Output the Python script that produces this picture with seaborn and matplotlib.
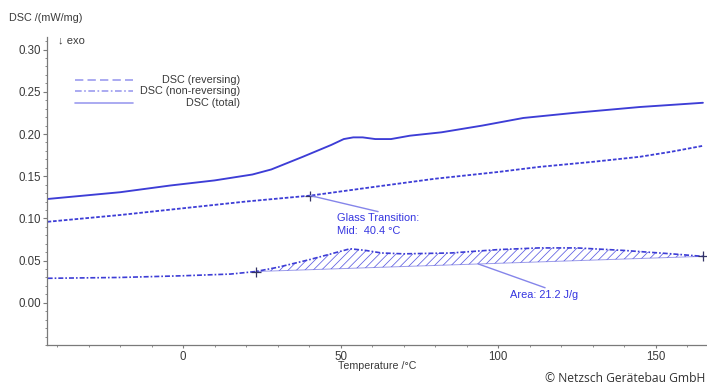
import numpy as np
import pandas as pd
import matplotlib
matplotlib.use("Agg")
import matplotlib.pyplot as plt
from matplotlib.ticker import MultipleLocator, FormatStrFormatter
import seaborn as sns

# --- measured DSC signals (temperature in °C, signal in mW/mg) ---
total_T = [-43, -20, -4, 10, 22, 28, 38, 47, 51, 54, 57, 61, 66, 72, 82, 95, 108, 124, 145, 165]
total_v = [0.123, 0.131, 0.139, 0.145, 0.152, 0.158, 0.173, 0.187, 0.194, 0.196, 0.196, 0.194,
           0.194, 0.198, 0.202, 0.210, 0.219, 0.225, 0.232, 0.237]

rev_T = [-43, -20, 0, 20, 40.4, 60, 80, 100, 113, 130, 145, 155, 165]
rev_v = [0.096, 0.104, 0.112, 0.120, 0.127, 0.137, 0.147, 0.155, 0.161, 0.167, 0.173, 0.179, 0.186]

nonrev_T = [-43, -20, 0, 15, 23, 30, 40, 47, 53, 58, 63, 70, 85, 100, 113, 125, 140, 155, 165]
nonrev_v = [0.029, 0.030, 0.032, 0.034, 0.037, 0.042, 0.051, 0.058, 0.064, 0.062, 0.059, 0.058,
            0.059, 0.063, 0.065, 0.065, 0.062, 0.058, 0.055]

# evaluation results
tg_mid = 40.4
tg_value = 0.127
area_limits_T = [23, 165]
area_limits_v = [0.037, 0.055]
area_value = 21.2

series_labels = ["DSC (reversing)", "DSC (non-reversing)", "DSC (total)"]

CURVE = "#3d3dd6"
HATCH_C = "#5c5ce2"
LEGEND_C = "#9c9cef"
TEXT_C = "#3535e0"
LEADER = "#8585ea"
AXIS_C = "#7a7a7a"
LABEL_C = "#3a3a3a"

sns.set_theme(style="ticks")
plt.rcParams["font.family"] = ["Liberation Sans", "DejaVu Sans"]
plt.rcParams["hatch.linewidth"] = 0.55

fig = plt.figure(figsize=(7.07, 3.85), dpi=100)
ax = fig.add_axes([0.0665, 0.104, 0.9335, 0.800])

df_total = pd.DataFrame({"T": total_T, "v": total_v})
df_rev = pd.DataFrame({"T": rev_T, "v": rev_v})
df_nonrev = pd.DataFrame({"T": nonrev_T, "v": nonrev_v})

sns.lineplot(data=df_total, x="T", y="v", ax=ax, color=CURVE, lw=1.35, sort=False)
sns.lineplot(data=df_rev, x="T", y="v", ax=ax, color=CURVE, lw=1.3, sort=False
             ).lines[-1].set_dashes((2.0, 1.0))
sns.lineplot(data=df_nonrev, x="T", y="v", ax=ax, color=CURVE, lw=1.2, sort=False
             ).lines[-1].set_dashes((3.0, 1.2, 1.0, 1.2))

# peak area against a linear baseline between the integration limits
seg = [(t, v) for t, v in zip(nonrev_T, nonrev_v) if area_limits_T[0] < t < area_limits_T[1]]
seg_T = np.array([area_limits_T[0]] + [p[0] for p in seg] + [area_limits_T[1]], dtype=float)
seg_v = np.array([area_limits_v[0]] + [p[1] for p in seg] + [area_limits_v[1]], dtype=float)
base = np.interp(seg_T, area_limits_T, area_limits_v)
ax.fill_between(seg_T, base, seg_v, facecolor="none", edgecolor=HATCH_C, hatch="////", lw=0)
ax.plot(area_limits_T, area_limits_v, color=CURVE, lw=0.7, alpha=0.5)

# evaluation markers
ax.plot([tg_mid], [tg_value], marker="+", ms=7, color="#333366", mew=0.9)
ax.plot(area_limits_T, area_limits_v, ls="none", marker="+", ms=7, color="#333366", mew=0.9)

# annotations
ax.plot([tg_mid, 61.9], [tg_value, 0.108], color=LEADER, lw=1.0)
ax.text(48.9, 0.1007, "Glass Transition:", color=TEXT_C, fontsize=7.9, va="center", ha="left")
ax.text(48.9, 0.0853, f"Mid:  {tg_mid} °C", color=TEXT_C, fontsize=7.9, va="center", ha="left")
ax.plot([93.7, 114.9], [0.046, 0.0178], color=LEADER, lw=1.0)
ax.text(103.8, 0.0095, f"Area: {area_value} J/g", color=TEXT_C, fontsize=7.9, va="center", ha="left")

# key drawn inside the plot area
key_y = [0.860, 0.824, 0.786]
key_styles = [(5.0, 2.5), (4.0, 1.5, 1.0, 1.5), None]
for yk, lab, st in zip(key_y, series_labels, key_styles):
    ln, = ax.plot([0.043, 0.131], [yk, yk], transform=ax.transAxes, color=LEGEND_C, lw=1.2)
    if st is not None:
        ln.set_dashes(st)
    ax.text(0.293, yk, lab, transform=ax.transAxes, ha="right", va="center",
            fontsize=7.8, color=LABEL_C)

ax.text(0.017, 0.99, "↓ exo", transform=ax.transAxes, ha="left", va="center",
        fontsize=8, color=LABEL_C)

# axes styling
ax.set_xlim(-43.2, 166.3)
ax.set_ylim(-0.05, 0.315)
ax.xaxis.set_major_locator(MultipleLocator(50))
ax.xaxis.set_minor_locator(MultipleLocator(10))
ax.set_yticks([0.0, 0.05, 0.10, 0.15, 0.20, 0.25, 0.30])
ax.yaxis.set_minor_locator(MultipleLocator(0.01))
ax.yaxis.set_major_formatter(FormatStrFormatter("%.2f"))
ax.tick_params(axis="y", which="major", length=3, width=0.8, color=AXIS_C,
               labelsize=8.3, labelcolor=LABEL_C, pad=1.5)
ax.tick_params(axis="x", which="major", length=2, width=0.8, color=AXIS_C,
               labelsize=8.3, labelcolor=LABEL_C, pad=2)
ax.tick_params(axis="both", which="minor", length=1.6, width=0.6, color=AXIS_C)
for side in ["top", "right"]:
    ax.spines[side].set_visible(False)
for side in ["left", "bottom"]:
    ax.spines[side].set_color(AXIS_C)
    ax.spines[side].set_linewidth(0.9)

ax.set_xlabel("Temperature /°C", fontsize=7.7, color=LABEL_C)
ax.xaxis.set_label_coords(0.5, -0.052)
ax.set_ylabel("")
fig.text(9 / 707, 1 - 18 / 385, "DSC /(mW/mg)", ha="left", va="center", fontsize=7.8, color=LABEL_C)
fig.text(705 / 707, 1 - 378 / 385, "© Netzsch Gerätebau GmbH", ha="right", va="center",
         fontsize=8.7, color="#333333", family=["Open Sans", "DejaVu Sans"])

fig.savefig("out.png", dpi=100)
